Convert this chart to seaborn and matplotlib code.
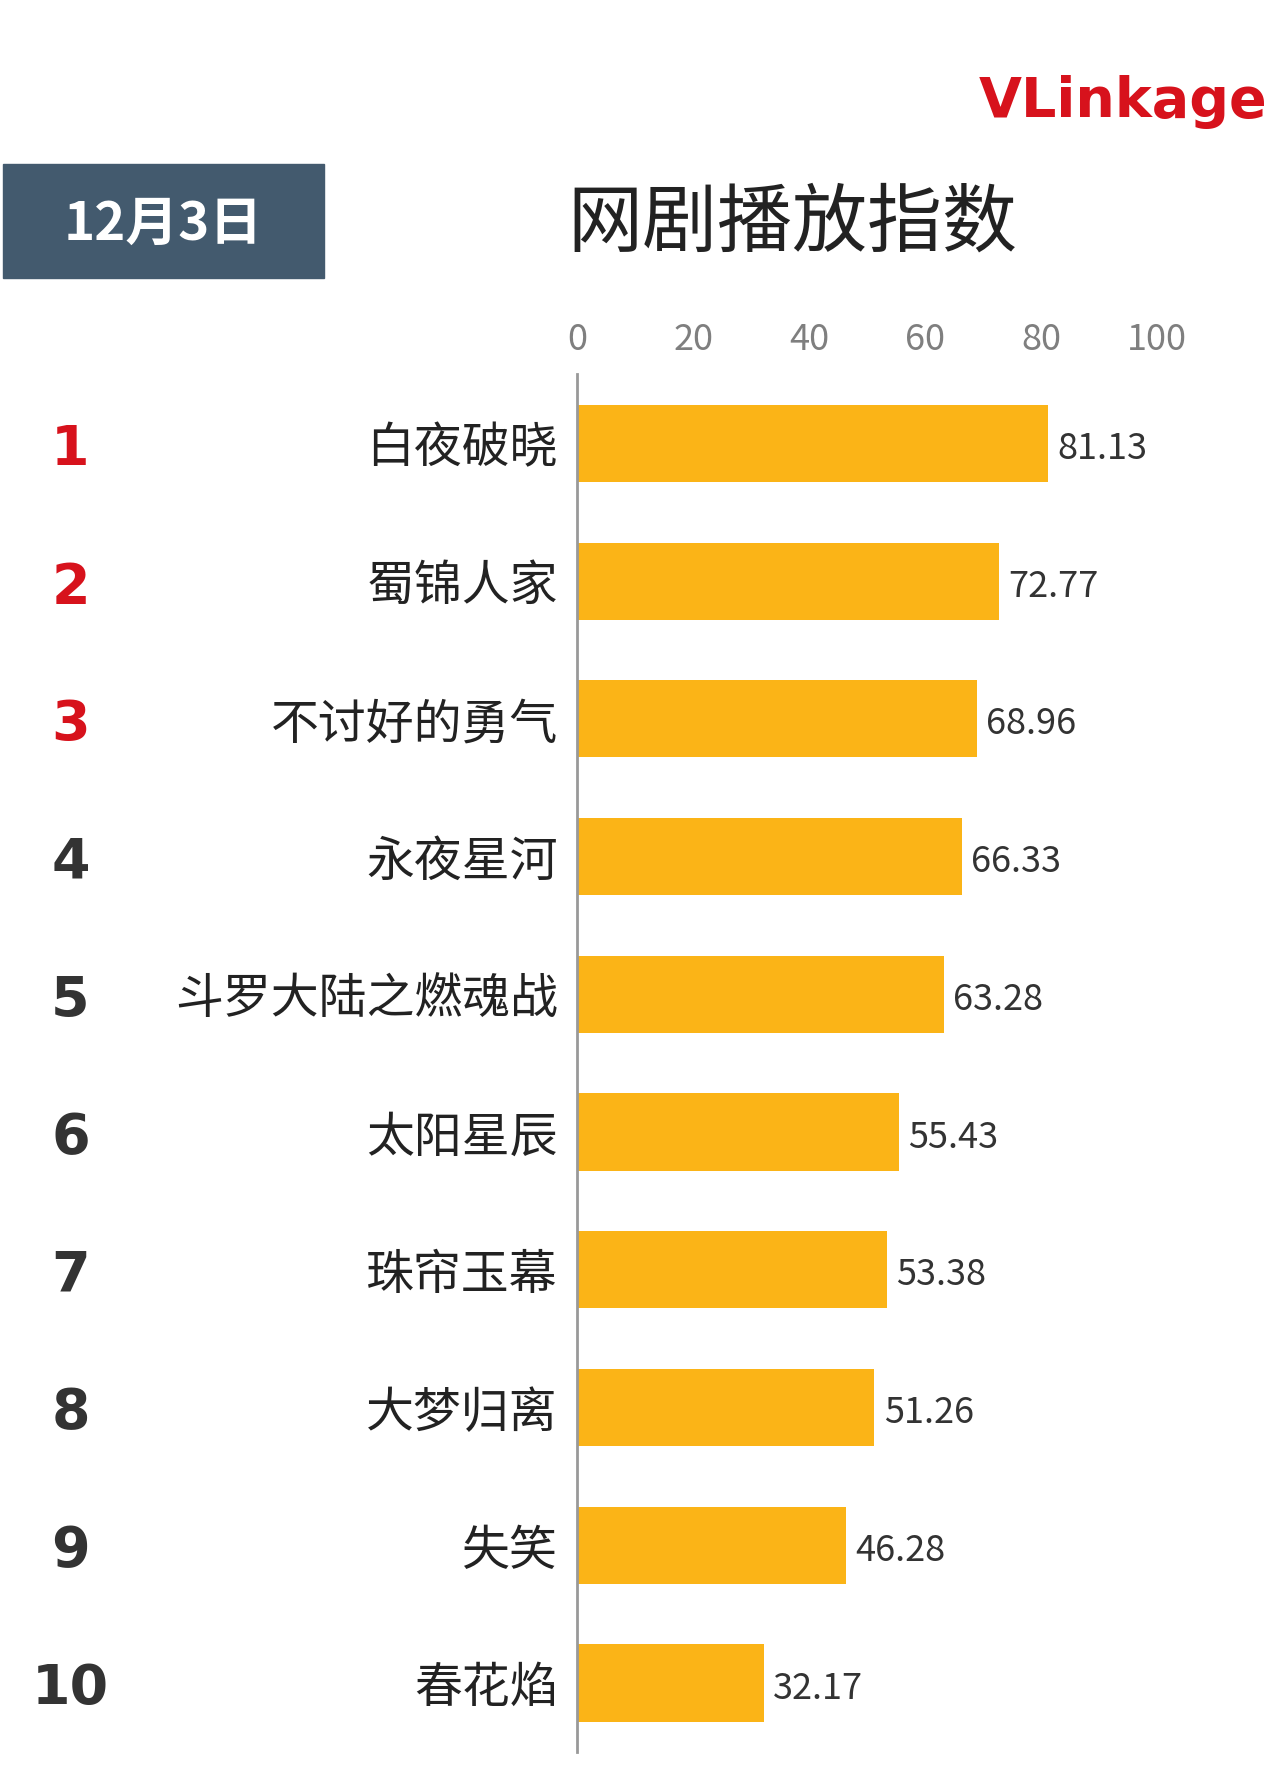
import matplotlib
matplotlib.use("Agg")
import matplotlib.pyplot as plt
import seaborn as sns
import pandas as pd
from matplotlib.patches import Rectangle

titles = ["白夜破晓", "蜀锦人家", "不讨好的勇气", "永夜星河", "斗罗大陆之燃魂战",
          "太阳星辰", "珠帘玉幕", "大梦归离", "失笑", "春花焰"]
values = [81.13, 72.77, 68.96, 66.33, 63.28, 55.43, 53.38, 51.26, 46.28, 32.17]
ranks = ["1", "2", "3", "4", "5", "6", "7", "8", "9", "10"]
ticks = [0, 20, 40, 60, 80, 100]

df = pd.DataFrame({"title": titles, "value": values})
plt.rcParams["font.family"] = ["Noto Sans CJK SC", "DejaVu Sans"]

fig = plt.figure(figsize=(12.82, 17.82), dpi=100)
W, H = 1128, 1568
ax = fig.add_axes([508 / W, 1 - 1541.5 / H, 510 / W, 1212 / H])
sns.barplot(data=df, x="value", y="title", color="#FBB417", saturation=1,
            width=0.56, ax=ax, orient="h")
ax.set_xlim(0, 100)
ax.set_ylim(9.5, -0.5)
ax.set_xticks(ticks)
ax.xaxis.tick_top()
ax.tick_params(axis="x", length=0, labelsize=26, labelcolor="#7f7f7f", pad=12)
ax.tick_params(axis="y", length=0, labelsize=34.5, labelcolor="#222222", pad=14)
ax.set_xlabel("")
ax.set_ylabel("")
for s in ["top", "right", "bottom"]:
    ax.spines[s].set_visible(False)
ax.spines["left"].set_color("#999999")
ax.spines["left"].set_linewidth(2)
for i, v in enumerate(values):
    ax.text(v + 1.6, i + 0.04, f"{v:.2f}", va="center", ha="left", fontsize=26, color="#333333")
for i, r in enumerate(ranks):
    col = "#D7121C" if i < 3 else "#333333"
    fig.text(62 / W, 1 - (396 + 121.1 * i) / H, r, ha="center", va="center",
             fontsize=40, fontweight="bold", color=col, family="DejaVu Sans")

fig.patches.append(Rectangle((3 / W, 1 - 245 / H), 282 / W, 101 / H,
                             transform=fig.transFigure, color="#435A6E"))
fig.text(144 / W, 1 - 197 / H, "12月3日", ha="center", va="center",
         fontsize=38, fontweight="bold", color="white")
fig.text(697 / W, 1 - 197 / H, "网剧播放指数", ha="center", va="center",
         fontsize=54, color="#222222")
fig.text(1115 / W, 1 - 90 / H, "VLinkage", ha="right", va="center",
         fontsize=40, fontweight="bold", color="#D7121C", family="DejaVu Sans")
fig.savefig("out.png", dpi=100, facecolor="white")
